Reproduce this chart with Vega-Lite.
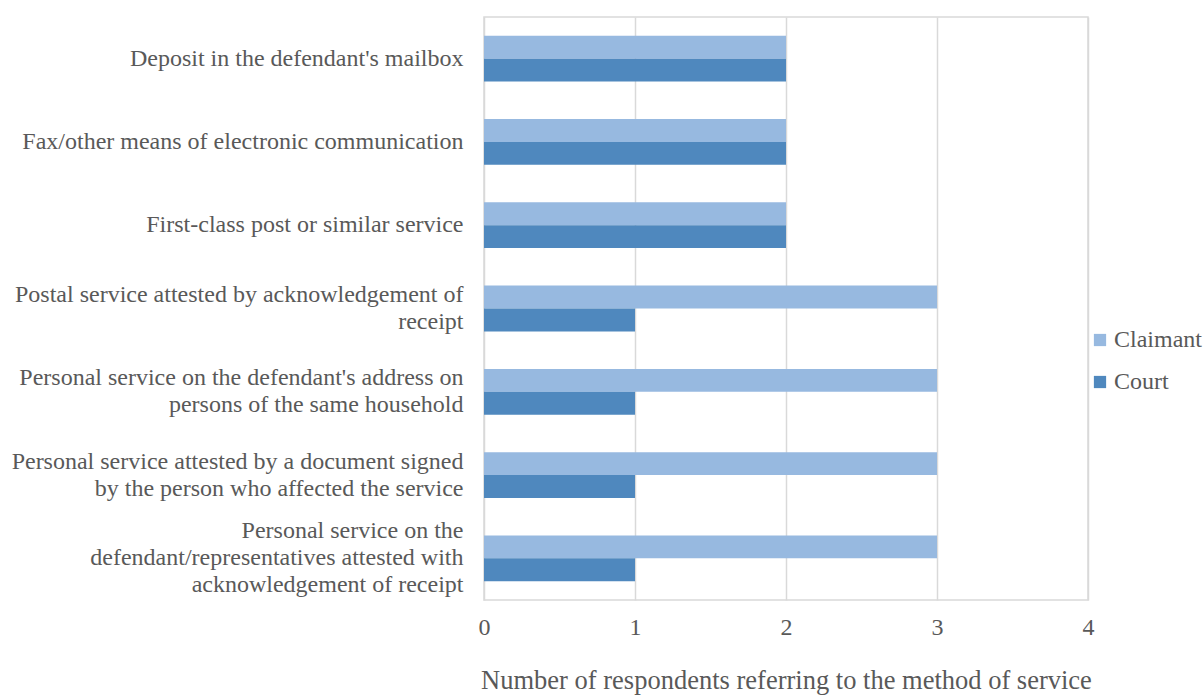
{
  "$schema": "https://vega.github.io/schema/vega-lite/v6.json",
  "width": 604,
  "height": 583,
  "autosize": "none",
  "padding": {"left": 484, "top": 17, "right": 116, "bottom": 95},
  "background": "white",
  "config": {
    "font": "Liberation Serif",
    "axis": {"labelFont": "Liberation Serif", "titleFont": "Liberation Serif"},
    "legend": {"labelFont": "Liberation Serif"},
    "view": {"stroke": "#d9d9d9", "strokeWidth": 1.5}
  },
  "data": {
    "values": [
      {"method": "Deposit in the defendant's mailbox", "party": "Claimant", "count": 2},
      {"method": "Deposit in the defendant's mailbox", "party": "Court", "count": 2},
      {"method": "Fax/other means of electronic communication", "party": "Claimant", "count": 2},
      {"method": "Fax/other means of electronic communication", "party": "Court", "count": 2},
      {"method": "First-class post or similar service", "party": "Claimant", "count": 2},
      {"method": "First-class post or similar service", "party": "Court", "count": 2},
      {"method": "Postal service attested by acknowledgement of|receipt", "party": "Claimant", "count": 3},
      {"method": "Postal service attested by acknowledgement of|receipt", "party": "Court", "count": 1},
      {"method": "Personal service on the defendant's address on|persons of the same household", "party": "Claimant", "count": 3},
      {"method": "Personal service on the defendant's address on|persons of the same household", "party": "Court", "count": 1},
      {"method": "Personal service attested by a document signed|by the person who affected the service", "party": "Claimant", "count": 3},
      {"method": "Personal service attested by a document signed|by the person who affected the service", "party": "Court", "count": 1},
      {"method": "Personal service on the|defendant/representatives attested with|acknowledgement of receipt", "party": "Claimant", "count": 3},
      {"method": "Personal service on the|defendant/representatives attested with|acknowledgement of receipt", "party": "Court", "count": 1}
    ]
  },
  "mark": {"type": "bar"},
  "encoding": {
    "y": {
      "field": "method",
      "type": "nominal",
      "sort": null,
      "scale": {"paddingInner": 0.45, "paddingOuter": 0.225},
      "axis": {
        "title": null,
        "domain": false,
        "ticks": false,
        "labelExpr": "split(datum.value, '|')",
        "labelFontSize": 24,
        "labelColor": "#595959",
        "labelPadding": 21,
        "labelLimit": 480,
        "labelLineHeight": 27,
        "labelOffset": {
          "condition": [
            {"test": "length(split(datum.value, '|')) == 3", "value": -27},
            {"test": "length(split(datum.value, '|')) == 2", "value": -13.5}
          ],
          "value": 0
        }
      }
    },
    "yOffset": {"field": "party", "type": "nominal", "sort": ["Claimant", "Court"]},
    "x": {
      "field": "count",
      "type": "quantitative",
      "scale": {"domain": [0, 4]},
      "axis": {
        "title": "Number of respondents referring to the method of service",
        "titleFontSize": 26.5,
        "titleFontWeight": "normal",
        "titleColor": "#595959",
        "titlePadding": 28,
        "values": [0, 1, 2, 3, 4],
        "labelOverlap": false,
        "domain": false,
        "ticks": false,
        "grid": true,
        "gridColor": "#d9d9d9",
        "gridWidth": 1.5,
        "labelFontSize": 24,
        "labelColor": "#595959",
        "labelPadding": 15,
        "labelFlush": false
      }
    },
    "color": {
      "field": "party",
      "type": "nominal",
      "scale": {"domain": ["Claimant", "Court"], "range": ["#97b9e0", "#4f88be"]},
      "legend": {
        "title": null,
        "orient": "none",
        "legendX": 604,
        "legendY": 311,
        "symbolType": "square",
        "symbolSize": 150,
        "symbolStrokeWidth": 0,
        "labelFontSize": 24,
        "labelColor": "#595959",
        "rowPadding": 18,
        "labelOffset": 2
      }
    }
  }
}
